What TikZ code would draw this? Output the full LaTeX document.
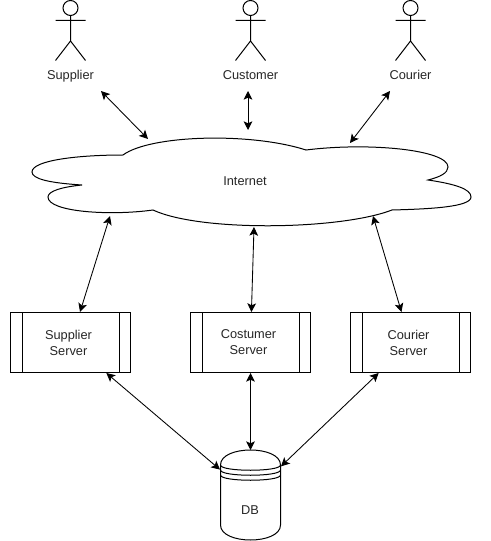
\documentclass[tikz,border=0pt]{standalone}
\usepackage{fontspec}
\setmainfont{Liberation Sans}
\usetikzlibrary{arrows.meta}

\tikzset{every path/.style={line width=.75pt}}
\tikzset{label/.style={font=\fontsize{9.6}{12}\selectfont,text=black!85,align=center,inner sep=0pt,text height=7pt,text depth=2pt}}
\tikzset{server/.style={rectangle,draw,minimum width=90pt,minimum height=45pt,inner sep=0pt,font=\fontsize{9.6}{12}\selectfont,text=black!85,align=center}}
\tikzset{link/.style={<->,>={Stealth[length=6.5pt,width=6.5pt,inset=1.5pt]},line width=.65pt}}

\begin{document}
\begin{tikzpicture}[x=.75pt,y=-.75pt]
    \useasboundingbox (0,0) rectangle (491,541);
    % actors
    \draw (70.5,8) circle (7.5) (70.5,15.5) -- (70.5,41) (55.5,20.5) -- (85.5,20.5)
    (55.5,60.5) -- (70.5,41) -- (85.5,60.5);
    \draw (250.5,8) circle (7.5) (250.5,15.5) -- (250.5,41) (235.5,20.5) -- (265.5,20.5)
    (235.5,60.5) -- (250.5,41) -- (265.5,60.5);
    \draw (410.5,8) circle (7.5) (410.5,15.5) -- (410.5,41) (395.5,20.5) -- (425.5,20.5)
    (395.5,60.5) -- (410.5,41) -- (425.5,60.5);
    \node[label] (supplier) at (70.5,76) {Supplier};
    \node[label] (customer) at (250.5,76) {Customer};
    \node[label] (courier) at (410.5,76) {Courier};
    % cloud
    \draw (123,155) .. controls (150,135) and (250,132) .. (306,150)
    .. controls (370,142) and (448,150) .. (448,167)
    .. controls (448,173) and (440,177) .. (428,180)
    .. controls (455,184) and (471,189) .. (471,197)
    .. controls (471,207) and (430,209) .. (392,210)
    .. controls (340,230) and (200,232) .. (153,210)
    .. controls (110,216) and (48,212) .. (48,197)
    .. controls (48,191) and (62,187) .. (82,185)
    .. controls (50,183) and (32,179) .. (32,172)
    .. controls (32,160) and (80,155) .. (123,155) -- cycle;
    \node[label] (internet) at (245,182) {Internet};
    % servers
    \node[server] (supsrv) at (70.5,342.5) {Supplier\hspace*{3pt}\\Server\hspace*{3pt}};
    \node[server] (cossrv) at (250.5,342.5) {Costumer\hspace*{3pt}\\Server\hspace*{3pt}};
    \node[server] (coursrv) at (410.5,342.5) {Courier\hspace*{3pt}\\Server\hspace*{3pt}};
    \draw ([xshift=9pt]supsrv.north west) -- ([xshift=9pt]supsrv.south west);
    \draw ([xshift=-9pt]supsrv.north east) -- ([xshift=-9pt]supsrv.south east);
    \draw ([xshift=9pt]cossrv.north west) -- ([xshift=9pt]cossrv.south west);
    \draw ([xshift=-9pt]cossrv.north east) -- ([xshift=-9pt]cossrv.south east);
    \draw ([xshift=9pt]coursrv.north west) -- ([xshift=9pt]coursrv.south west);
    \draw ([xshift=-9pt]coursrv.north east) -- ([xshift=-9pt]coursrv.south east);
    % database
    \node[minimum width=45pt,minimum height=67.5pt,inner sep=0pt] (db) at (250.5,495.5) {};
    \draw (220.5,465) .. controls (220.5,445) and (280.5,445) .. (280.5,465) -- (280.5,525)
    .. controls (280.5,545) and (220.5,545) .. (220.5,525) -- cycle;
    \draw (220.5,465) .. controls (220.5,472) and (280.5,472) .. (280.5,465);
    \draw (220.5,470) .. controls (220.5,477) and (280.5,477) .. (280.5,470);
    \draw (220.5,475) .. controls (220.5,482) and (280.5,482) .. (280.5,475);
    \node[label] (dbtext) at (250,511.5) {DB};
    % free ends
    \coordinate (a1) at (101,91);
    \coordinate (a2) at (248,91);
    \coordinate (a3) at (390,91);
    \coordinate (n1) at (148,139);
    \coordinate (n2) at (248,130);
    \coordinate (n3) at (350,143);
    \coordinate (n4) at (110,216);
    \coordinate (n5) at (254,227);
    \coordinate (n6) at (373,216);
    % connectors
    \draw[link] (a1) -- (n1);
    \draw[link] (a2) -- (n2);
    \draw[link] (a3) -- (n3);
    \draw[link] (n4) -- (supsrv);
    \draw[link] (n5) -- (cossrv);
    \draw[link] (n6) -- (coursrv);
    \draw[link] (supsrv) -- (db);
    \draw[link] (cossrv) -- (db);
    \draw[link] (coursrv) -- (db);
\end{tikzpicture}
\end{document}
